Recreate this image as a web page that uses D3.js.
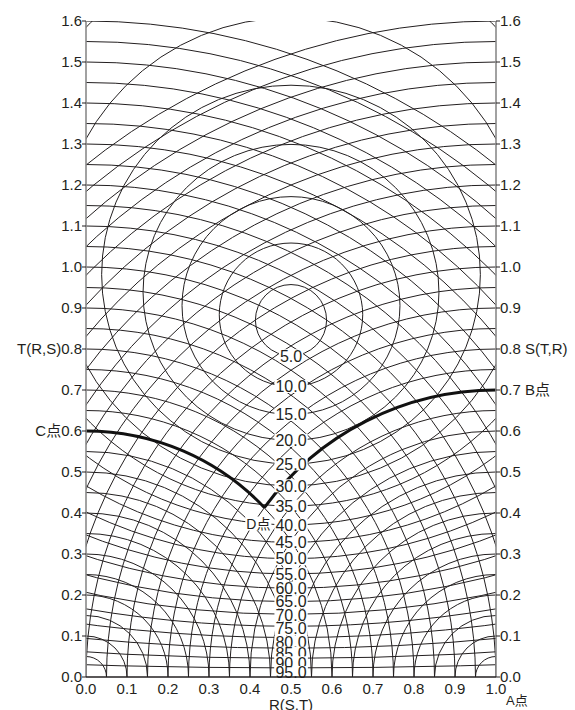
<!DOCTYPE html>
<html>
<head>
<meta charset="utf-8">
<title>unbalance chart</title>
<script src="https://d3js.org/d3.v7.min.js"></script>
<style>
  body { margin: 0; background: #fff; }
  text { font-family: "Liberation Sans", Arial, "Noto Sans CJK JP", sans-serif; fill: #231f20; }
</style>
</head>
<body>
<div id="chart"></div>
<script>
// radii of the arcs drawn from the left corner (T) and the right corner (S)
var radii = [0.05, 0.10, 0.15, 0.20, 0.25, 0.30, 0.35, 0.40, 0.45, 0.50, 0.55, 0.60, 0.65, 0.70, 0.75, 0.80,
             0.85, 0.90, 0.95, 1.00, 1.05, 1.10, 1.15, 1.20, 1.25, 1.30, 1.35, 1.40, 1.45, 1.50, 1.55, 1.60];

// unbalance factor circles (%)
var unbalance = [5, 10, 15, 20, 25, 30, 35, 40, 45, 50, 55, 60, 65, 70, 75, 80, 85, 90, 95];

// axis ticks
var yTicks = [0.0, 0.1, 0.2, 0.3, 0.4, 0.5, 0.6, 0.7, 0.8, 0.9, 1.0, 1.1, 1.2, 1.3, 1.4, 1.5, 1.6];
var xTicks = [0.0, 0.1, 0.2, 0.3, 0.4, 0.5, 0.6, 0.7, 0.8, 0.9, 1.0];

// extra words next to some tick labels
var leftExtra = {"0.8": "T(R,S)", "0.6": "C点"};
var rightExtra = {"0.8": "S(T,R)", "0.7": "B点"};

// example: T = 0.6 (C点), S = 0.7 (B点), R = 1.0 (A点)
var tValue = 0.6, sValue = 0.7;

var W = 575, H = 710;

var svg = d3.select("#chart").append("svg")
  .attr("width", W)
  .attr("height", H);

var x = d3.scaleLinear().domain([0, 1]).range([86, 496]);
var y = d3.scaleLinear().domain([0, 1.6]).range([677, 21]);
var px = function(v) { return x(v) - x(0); };

svg.append("clipPath").attr("id", "plot")
  .append("rect")
  .attr("x", x(0)).attr("y", y(1.6))
  .attr("width", x(1) - x(0)).attr("height", y(0) - y(1.6));

var grid = svg.append("g").attr("clip-path", "url(#plot)")
  .attr("fill", "none").attr("stroke", "#231f20").attr("stroke-width", 1);

// arcs centred on the left corner and on the right corner
grid.selectAll(".lt").data(radii).enter().append("circle")
  .attr("cx", x(0)).attr("cy", y(0)).attr("r", function(d) { return px(d); });
grid.selectAll(".rt").data(radii).enter().append("circle")
  .attr("cx", x(1)).attr("cy", y(0)).attr("r", function(d) { return px(d); });

// unbalance circles: |P - A| / |P - B| = k, A,B = (0.5, +-sqrt3/2)
var h = Math.sqrt(3) / 2;
var circ = unbalance.map(function(u) {
  var k = u / 100;
  return {u: u, cy: h * (1 + k * k) / (1 - k * k), r: 2 * h * k / (1 - k * k), low: h * (1 - k) / (1 + k)};
});
grid.selectAll(".ub").data(circ).enter().append("circle")
  .attr("cx", x(0.5)).attr("cy", function(d) { return y(d.cy); })
  .attr("r", function(d) { return px(d.r); });

// the bold example: arc T from C to D, arc S from B to D
var dx = (1 + tValue * tValue - sValue * sValue) / 2;
var dy = Math.sqrt(tValue * tValue - dx * dx);
var aD1 = Math.atan2(-dy, dx);
var aD2 = Math.atan2(-dy, dx - 1);
var p1 = d3.path();
p1.arc(x(0), y(0), px(tValue), -Math.PI / 2, aD1, false);
var p2 = d3.path();
p2.arc(x(1), y(0), px(sValue), -Math.PI / 2, aD2, true);
svg.append("path").attr("d", p1.toString())
  .attr("fill", "none").attr("stroke", "#111").attr("stroke-width", 3);
svg.append("path").attr("d", p2.toString())
  .attr("fill", "none").attr("stroke", "#111").attr("stroke-width", 3);

// label positions: on the circle crossing, pushed apart near the bottom
var ly = circ.map(function(d) { return y(d.low); });
for (var i = 1; i < ly.length; i++) ly[i] = Math.max(ly[i], ly[i - 1] + 13.4);
ly[ly.length - 1] = Math.min(ly[ly.length - 1], y(0) - 4.5);
for (var j = ly.length - 2; j >= 0; j--) ly[j] = Math.min(ly[j], ly[j + 1] - 9.7);

// white box behind a text
function boxed(g, t, top, hgt) {
  var b = t.node().getBBox();
  g.insert("rect", function() { return t.node(); })
    .attr("x", b.x - 1).attr("y", top)
    .attr("width", b.width + 2).attr("height", hgt)
    .attr("fill", "#fff");
}

// unbalance labels on white boxes along x = 0.5
var lab = svg.append("g");
circ.forEach(function(d, i) {
  var t = lab.append("text")
    .attr("x", x(0.5)).attr("y", ly[i] + 5.8)
    .attr("text-anchor", "middle").attr("font-size", 16)
    .text(d.u.toFixed(1));
  boxed(lab, t, ly[i] - 6.5, 13);
});

var dLab = lab.append("text").attr("x", x(dx) - 6).attr("y", y(dy) + 21)
  .attr("text-anchor", "middle").attr("font-size", 14).text("D点");
boxed(lab, dLab, y(dy) + 9, 14);

// axes
svg.append("line").attr("x1", x(0)).attr("x2", x(0)).attr("y1", y(0)).attr("y2", y(1.6))
  .attr("stroke", "#8a8a8a").attr("stroke-width", 1.6);
svg.append("line").attr("x1", x(1)).attr("x2", x(1)).attr("y1", y(0)).attr("y2", y(1.6))
  .attr("stroke", "#8a8a8a").attr("stroke-width", 1.6);
svg.append("line").attr("x1", x(0)).attr("x2", x(1)).attr("y1", y(0)).attr("y2", y(0))
  .attr("stroke", "#231f20").attr("stroke-width", 1.4);

var ticks = svg.append("g").attr("stroke", "#231f20").attr("stroke-width", 1);
ticks.selectAll(".tl").data(yTicks).enter().append("line")
  .attr("x1", x(0) - 4).attr("x2", x(0)).attr("y1", function(d) { return y(d); }).attr("y2", function(d) { return y(d); });
ticks.selectAll(".tr").data(yTicks).enter().append("line")
  .attr("x1", x(1)).attr("x2", x(1) + 4).attr("y1", function(d) { return y(d); }).attr("y2", function(d) { return y(d); });

svg.selectAll(".yl").data(yTicks).enter().append("text")
  .attr("x", x(0) - 4).attr("y", function(d) { return y(d) + 5.4; })
  .attr("text-anchor", "end").attr("font-size", 15)
  .text(function(d) { return (leftExtra[d.toFixed(1)] || "") + d.toFixed(1); });
svg.selectAll(".yr").data(yTicks).enter().append("text")
  .attr("x", x(1) + 4).attr("y", function(d) { return y(d) + 5.4; })
  .attr("text-anchor", "start").attr("font-size", 15)
  .text(function(d) { var e = rightExtra[d.toFixed(1)]; return d.toFixed(1) + (e ? " " + e : ""); });

svg.selectAll(".xl").data(xTicks).enter().append("text")
  .attr("x", function(d) { return x(d); }).attr("y", 694)
  .attr("text-anchor", "middle").attr("font-size", 15)
  .text(function(d) { return d.toFixed(1); });

svg.append("text").attr("x", x(0.5)).attr("y", 710)
  .attr("text-anchor", "middle").attr("font-size", 15).text("R(S,T)");
svg.append("text").attr("x", x(1) + 10).attr("y", 705)
  .attr("font-size", 13).text("A点");
</script>
</body>
</html>
